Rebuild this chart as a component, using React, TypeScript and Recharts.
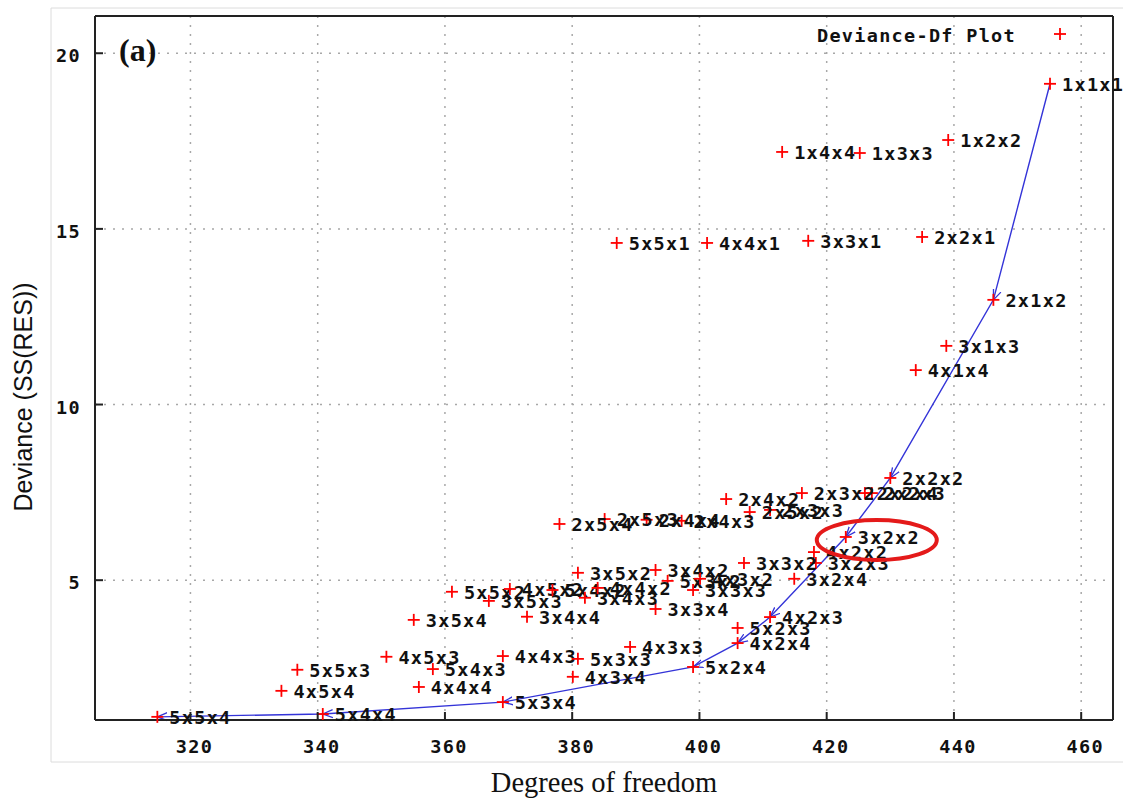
import { ComposedChart, Scatter, Line, XAxis, YAxis, CartesianGrid, ReferenceDot } from 'recharts'

// model labels (rows x cols x layers) with their residual df and deviance
const models = [
  '1x1x1', '1x2x2', '1x3x3', '1x4x4', '2x1x2', '2x2x1', '3x3x1', '4x4x1', '5x5x1',
  '3x1x3', '4x1x4', '2x2x2', '2x2x3', '2x2x4', '2x3x2', '2x3x3', '2x5x2', '2x4x2',
  '2x4x3', '2x4x4', '2x5x3', '2x5x4', '3x2x2', '4x2x2', '3x2x3', '3x3x2', '3x2x4',
  '4x2x3', '5x2x3', '4x2x4', '5x2x4', '3x5x2', '3x4x2', '5x3x2', '4x3x2', '3x3x3',
  '3x3x4', '5x5x2', '3x5x3', '4x5x2', '5x4x2', '3x4x3', '4x4x2', '3x5x4', '3x4x4',
  '4x5x3', '5x4x3', '4x4x3', '5x3x3', '4x3x3', '4x4x4', '5x5x3', '4x5x4', '4x3x4',
  '5x3x4', '5x4x4', '5x5x4',
]
const degreesOfFreedom = [
  455.1, 439.1, 425.2, 413.0, 446.2, 435.0, 417.1, 401.2, 387.0,
  438.8, 434.0, 430.0, 427.1, 426.0, 416.1, 411.1, 407.9, 404.2,
  397.2, 391.7, 385.1, 378.0, 423.0, 418.0, 418.3, 407.0, 414.9,
  411.1, 406.0, 406.0, 399.0, 380.9, 393.1, 395.0, 400.1, 399.0,
  393.1, 361.1, 366.9, 370.2, 376.9, 382.0, 384.0, 355.1, 372.9,
  350.8, 358.1, 369.1, 380.9, 389.1, 355.9, 336.8, 334.3, 380.1,
  369.1, 340.8, 314.8,
]
const deviance = [
  19.13, 17.53, 17.16, 17.19, 12.98, 14.77, 14.66, 14.6, 14.6,
  11.67, 10.98, 7.91, 7.48, 7.48, 7.48, 7.0, 6.94, 7.31,
  6.69, 6.72, 6.74, 6.6, 6.23, 5.8, 5.49, 5.49, 5.04,
  3.95, 3.64, 3.21, 2.53, 5.21, 5.29, 4.98, 5.04, 4.72,
  4.18, 4.67, 4.41, 4.75, 4.72, 4.5, 4.78, 3.87, 3.96,
  2.82, 2.47, 2.84, 2.76, 3.1, 1.96, 2.45, 1.85, 2.25,
  1.53, 1.19, 1.11,
]
// selection path followed by the arrows
const pathModels = ['1x1x1', '2x1x2', '2x2x2', '3x2x2', '4x2x3', '4x2x4', '5x2x4', '5x3x4', '5x4x4', '5x5x4']
const highlighted = '3x2x2'

const xTicks = [320, 340, 360, 380, 400, 420, 440, 460]
const yTicks = [5, 10, 15, 20]

const points = models.map((name, i) => ({ name, df: degreesOfFreedom[i], dev: deviance[i] }))
const path = pathModels.map((n) => points.find((p) => p.name === n)!)
const picked = points.find((p) => p.name === highlighted)!

const MONO = '"DejaVu Sans Mono", monospace'
const monoText = { fontFamily: MONO, fontWeight: 700, fontSize: 18.5, letterSpacing: 1.3, fill: '#111' }
const LINE_BLUE = '#3434d8'

function PlusMark(props: any) {
  const { cx, cy, payload } = props
  return (
    <g>
      <line x1={cx - 6} y1={cy} x2={cx + 6} y2={cy} stroke="#ff0000" strokeWidth={1.8} />
      <line x1={cx} y1={cy - 6} x2={cx} y2={cy + 6} stroke="#ff0000" strokeWidth={1.8} />
      <text x={cx + 12} y={cy + 7} style={monoText}>{payload.name}</text>
    </g>
  )
}

const BottomTick = ({ x, y, payload }: any) => (
  <g>
    <line x1={x} y1={y} x2={x} y2={y - 8} stroke="#222" strokeWidth={2} />
    <text x={x + 4} y={y + 33} textAnchor="middle" style={monoText}>{payload.value}</text>
  </g>
)
const TopTick = ({ x, y }: any) => <line x1={x} y1={y} x2={x} y2={y + 8} stroke="#222" strokeWidth={2} />
const LeftTick = ({ x, y, payload }: any) => (
  <g>
    <line x1={x} y1={y} x2={x + 8} y2={y} stroke="#222" strokeWidth={2} />
    <text x={x - 14} y={y + 9} textAnchor="end" style={monoText}>{payload.value}</text>
  </g>
)
const RightTick = ({ x, y }: any) => <line x1={x} y1={y} x2={x - 8} y2={y} stroke="#222" strokeWidth={2} />

const axisLine = { stroke: '#222', strokeWidth: 2 }

export default function App() {
  return (
    <div style={{ position: 'absolute', left: 0, top: 0, width: 1128, height: 798, background: '#fff' }}>
      <ComposedChart width={1128} height={798} margin={{ top: 15, right: 14, bottom: 77, left: 94 }}>
        <CartesianGrid stroke="#a8a8a8" strokeWidth={1.5} strokeDasharray="2 7" />
        <XAxis type="number" dataKey="df" domain={[305, 465]} ticks={xTicks}
          height={1} tickSize={0} tickMargin={0} tickLine={false} axisLine={axisLine} tick={<BottomTick />} />
        <XAxis xAxisId="top" orientation="top" type="number" dataKey="df" domain={[305, 465]} ticks={xTicks}
          height={1} tickSize={0} tickMargin={0} tickLine={false} axisLine={axisLine} tick={<TopTick />} />
        <YAxis type="number" dataKey="dev" domain={[1.02, 21.06]} ticks={yTicks}
          width={1} tickSize={0} tickMargin={0} tickLine={false} axisLine={axisLine} tick={<LeftTick />} />
        <YAxis yAxisId="right" orientation="right" type="number" domain={[1.02, 21.06]} ticks={yTicks}
          width={1} tickSize={0} tickMargin={0} tickLine={false} axisLine={axisLine} tick={<RightTick />} />
        <Scatter data={points} dataKey="dev" shape={<PlusMark />} isAnimationActive={false} />
        <Line data={path} dataKey="dev" type="linear" stroke={LINE_BLUE} strokeWidth={1.4} dot={false}
          activeDot={false} markerMid="url(#arrowHead)" markerEnd="url(#arrowHead)" isAnimationActive={false} />
        <ReferenceDot x={picked.df} y={picked.dev} shape={(p: any) => (
          <ellipse cx={p.cx + 31} cy={p.cy + 3} rx={60} ry={20} fill="none" stroke="#e41a1a" strokeWidth={4} />
        )} />
      </ComposedChart>

      <svg width={1128} height={798} style={{ position: 'absolute', left: 0, top: 0, pointerEvents: 'none' }}>
        <defs>
          <marker id="arrowHead" viewBox="0 0 10 10" refX={10} refY={5} markerWidth={10} markerHeight={10}
            markerUnits="userSpaceOnUse" orient="auto">
            <path d="M0,1 L10,5 L0,9" fill="none" stroke={LINE_BLUE} strokeWidth={1.3} />
          </marker>
        </defs>
        <polyline points="1123,8 51,8 51,762 1123,762" fill="none" stroke="#dcdcdc" strokeWidth={1} />
        <text x={1016} y={42} textAnchor="end" style={monoText}>Deviance-Df Plot</text>
        <line x1={1054} y1={34} x2={1066} y2={34} stroke="#ff0000" strokeWidth={1.8} />
        <line x1={1060} y1={28} x2={1060} y2={40} stroke="#ff0000" strokeWidth={1.8} />
        <text x={119} y={61} style={{ fontFamily: '"Liberation Serif", serif', fontWeight: 700, fontSize: 32, fill: '#111' }}>(a)</text>
        <text x={604} y={792} textAnchor="middle"
          style={{ fontFamily: '"Liberation Serif", serif', fontSize: 28.5, fill: '#111' }}>Degrees of freedom</text>
        <text x={32} y={397} textAnchor="middle" transform="rotate(-90 32 397)"
          style={{ fontFamily: '"Liberation Sans", sans-serif', fontSize: 25, fill: '#111' }}>Deviance (SS(RES))</text>
      </svg>
    </div>
  )
}
